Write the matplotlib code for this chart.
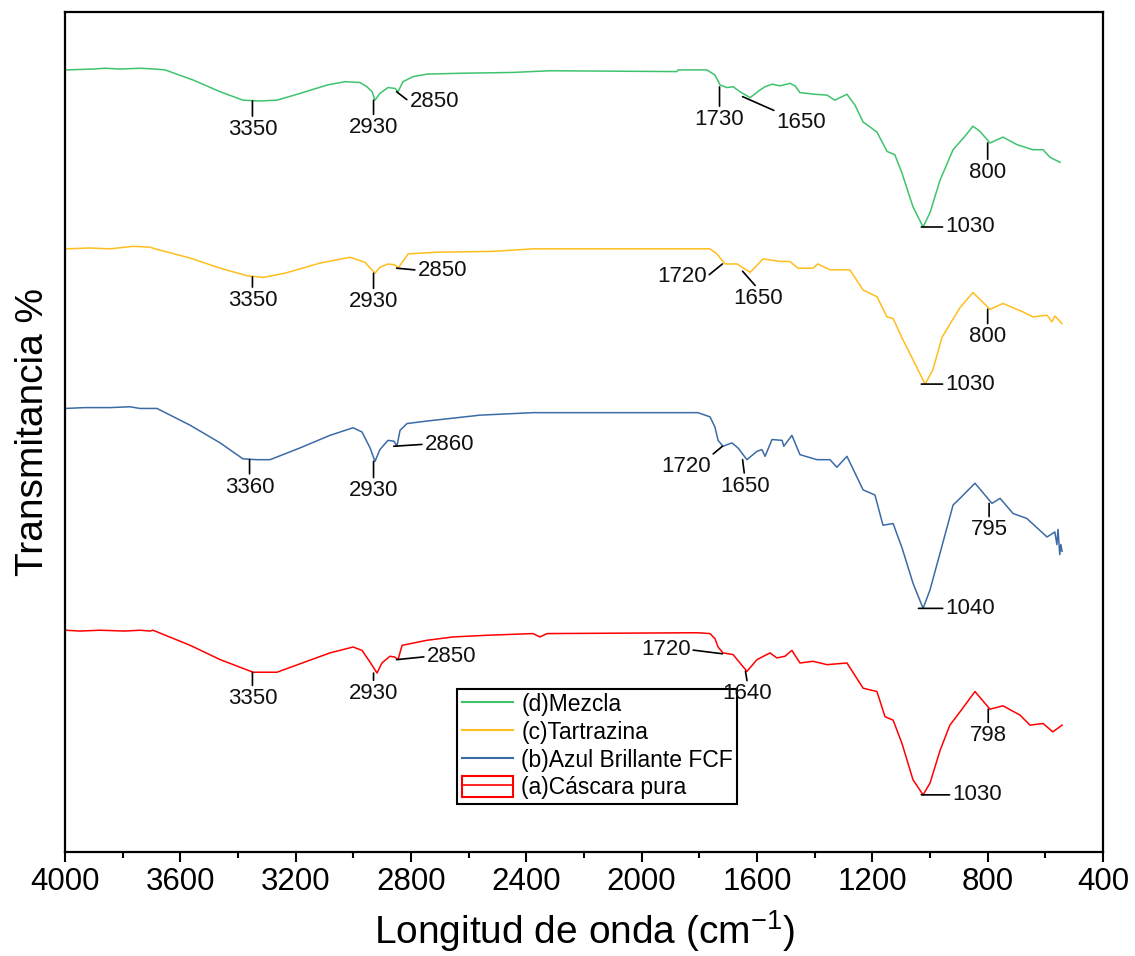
import matplotlib
matplotlib.use("Agg")
import matplotlib.pyplot as plt
import numpy as np
from matplotlib.lines import Line2D
from matplotlib.patches import Rectangle
from matplotlib.ticker import MultipleLocator

plt.rcParams["font.family"] = ["Liberation Sans", "DejaVu Sans"]
plt.rcParams["mathtext.default"] = "regular"

# FTIR spectra, stacked (arbitrary transmittance units with vertical offset)
# (d) Mezcla
wn_d = [4000, 3903, 3861, 3809, 3740, 3688, 3653, 3556, 3462, 3383, 3324, 3265, 3185, 3091,
        3029, 2977, 2953, 2935, 2925, 2908, 2880, 2856, 2845, 2828, 2793, 2745, 2630, 2446,
        2318, 1878, 1874, 1774, 1746, 1728, 1704, 1683, 1659, 1624, 1590, 1572, 1548, 1520,
        1486, 1468, 1451, 1399, 1357, 1330, 1288, 1260, 1232, 1184, 1149, 1122, 1097, 1059,
        1024, 1000, 965, 920, 879, 851, 827, 792, 747, 698, 643, 608, 584, 549]
t_d = [93.1, 93.2, 93.3, 93.2, 93.3, 93.2, 93.1, 91.9, 90.5, 89.5, 89.4, 89.5, 90.3, 91.3,
       91.7, 91.6, 91.1, 90.5, 89.5, 90.3, 91.0, 90.9, 90.5, 91.7, 92.3, 92.6, 92.7, 92.8,
       93.0, 92.9, 93.1, 93.1, 92.5, 91.3, 91.0, 91.1, 90.5, 89.8, 90.7, 91.1, 91.4, 91.2,
       91.5, 91.2, 90.4, 90.2, 90.1, 89.5, 90.2, 88.9, 86.9, 85.7, 83.4, 83.0, 80.8, 76.8,
       74.4, 76.1, 80.0, 83.6, 85.2, 86.4, 85.8, 84.4, 85.1, 84.2, 83.6, 83.6, 82.7, 82.1]
peaks_d = [3350, 2930, 2850, 1730, 1650, 1030, 800]

# (c) Tartrazina
wn_c = [4000, 3913, 3844, 3764, 3705, 3688, 3566, 3462, 3369, 3313, 3237, 3116, 3012, 2960,
        2925, 2908, 2880, 2856, 2845, 2810, 2710, 2516, 2377, 1763, 1739, 1711, 1669, 1624,
        1579, 1520, 1486, 1458, 1406, 1389, 1347, 1278, 1232, 1184, 1149, 1128, 1097, 1059,
        1017, 990, 958, 896, 851, 792, 747, 678, 643, 594, 577, 567, 542]
t_c = [71.8, 71.9, 71.8, 72.1, 72.0, 71.8, 70.7, 69.5, 68.6, 68.4, 68.9, 70.1, 70.8, 70.2,
       68.9, 69.6, 70.0, 69.9, 69.5, 71.2, 71.4, 71.5, 71.8, 71.8, 71.2, 70.0, 70.0, 69.0,
       70.6, 70.3, 70.3, 69.5, 69.5, 70.0, 69.3, 69.3, 66.9, 66.1, 63.7, 63.5, 61.2, 58.6,
       55.7, 57.4, 61.3, 64.8, 66.6, 64.6, 65.3, 64.3, 63.7, 63.9, 63.1, 63.8, 62.9]
peaks_c = [3350, 2930, 2850, 1720, 1650, 1030, 800]

# (b) Azul Brillante FCF
wn_b = [4000, 3931, 3844, 3775, 3740, 3681, 3566, 3462, 3383, 3334, 3289, 3185, 3081, 3001,
        2970, 2942, 2925, 2908, 2880, 2859, 2849, 2838, 2814, 2745, 2561, 2377, 1805, 1763,
        1746, 1735, 1718, 1687, 1666, 1635, 1600, 1583, 1572, 1548, 1513, 1507, 1479, 1451,
        1392, 1347, 1323, 1288, 1232, 1191, 1163, 1128, 1097, 1059, 1024, 1000, 965, 920,
        896, 844, 785, 757, 712, 664, 594, 567, 560, 556, 550, 546, 542]
t_b = [52.8, 52.9, 52.9, 53.0, 52.8, 52.8, 50.8, 48.7, 46.8, 46.7, 46.7, 48.1, 49.6, 50.5,
       50.0, 48.1, 46.5, 47.9, 49.0, 48.9, 48.3, 50.2, 51.0, 51.3, 52.0, 52.3, 52.3, 51.8,
       50.6, 49.0, 48.3, 48.7, 48.1, 46.7, 47.7, 47.9, 47.1, 49.1, 49.0, 48.3, 49.6, 47.3,
       46.7, 46.7, 45.8, 47.1, 43.1, 42.5, 38.9, 39.1, 36.2, 32.0, 29.0, 31.2, 35.6, 41.3,
       42.1, 43.9, 41.5, 42.1, 40.3, 39.7, 37.5, 38.1, 36.6, 38.4, 35.4, 36.6, 35.8]
peaks_b = [3360, 2930, 2860, 1720, 1650, 1040, 795]

# (a) Cáscara pura
wn_a = [4000, 3948, 3879, 3792, 3740, 3705, 3695, 3566, 3462, 3348, 3265, 3185, 3081, 3001,
        2970, 2942, 2918, 2901, 2873, 2856, 2845, 2831, 2745, 2654, 2536, 2377, 2353, 2328,
        1808, 1763, 1746, 1735, 1718, 1683, 1635, 1600, 1555, 1531, 1503, 1479, 1451, 1406,
        1357, 1288, 1232, 1184, 1156, 1128, 1097, 1059, 1024, 1000, 965, 931, 889, 844, 792,
        747, 688, 653, 608, 574, 542]
t_a = [26.4, 26.3, 26.4, 26.3, 26.4, 26.3, 26.4, 24.6, 22.9, 21.4, 21.4, 22.4, 23.7, 24.4,
       24.0, 22.6, 21.3, 22.5, 23.3, 23.2, 22.9, 24.6, 25.2, 25.6, 25.8, 26.0, 25.6, 26.0,
       26.1, 26.0, 25.4, 24.4, 23.7, 23.5, 21.5, 22.9, 23.7, 23.1, 23.3, 24.0, 22.5, 22.7,
       22.3, 22.5, 19.5, 19.1, 16.1, 15.7, 12.9, 8.6, 6.8, 8.2, 12.1, 15.1, 17.0, 19.1, 17.0,
       17.4, 16.3, 15.1, 15.3, 14.3, 15.1]
peaks_a = [3350, 2930, 2850, 1720, 1640, 1030, 798]

labels = ["(d)Mezcla", "(c)Tartrazina", "(b)Azul Brillante FCF", "(a)Cáscara pura"]
colors = ["#3EC36D", "#FFBE1E", "#3B6BA5", "#FF0000"]

# label placement: (dx, dy) in pixels from the band, and which side the text sits
layout_d = [(0, -18, "down"), (0, -17, "down"), (13, -10, "right"), (0, -22, "down"),
            (34, -15, "downright"), (24, 0, "right"), (0, -19, "down")]
layout_c = [(0, -13, "down"), (0, -18, "down"), (21, -2, "right"), (-16, -13, "left"),
            (15, -17, "down"), (24, 0, "right"), (0, -17, "down")]
layout_b = [(0, -17, "down"), (0, -19, "down"), (31, 2, "right"), (-12, -10, "downleft"),
            (2, -16, "down"), (27, 0, "right"), (0, -16, "down")]
layout_a = [(0, -16, "down"), (0, -10, "down"), (30, 3, "right"), (-32, 4, "left"),
            (2, -12, "down"), (31, 0, "right"), (0, -16, "down")]

SIDES = {
    "down": ("center", "top", (0.5, 1.0)),
    "right": ("left", "center", (0.0, 0.5)),
    "left": ("right", "center", (1.0, 0.5)),
    "downright": ("left", "top", (0.0, 1.0)),
    "downleft": ("right", "top", (1.0, 1.0)),
}


def label_peaks(ax, wn, t, peaks, layout):
    x = np.asarray(wn, dtype=float)[::-1]
    y = np.asarray(t, dtype=float)[::-1]
    for p, (dx, dy, side) in zip(peaks, layout):
        # tick starts at the lowest point of the band around the labelled wavenumber
        y0 = np.interp(np.linspace(p - 20, p + 20, 41), x, y).min()
        ha, va, rel = SIDES[side]
        ax.annotate(str(p), xy=(p, y0), xytext=(dx, dy), textcoords="offset pixels",
                    ha=ha, va=va, fontsize=16, color="#111111", zorder=6,
                    arrowprops=dict(arrowstyle="-", color="black", lw=1.2,
                                    shrinkA=0, shrinkB=0, relpos=rel))


fig = plt.figure(figsize=(11.35, 9.56), dpi=100)
ax = fig.add_axes([0.0573, 0.1088, 0.9145, 0.8787])

spectra = [(wn_d, t_d, peaks_d, layout_d), (wn_c, t_c, peaks_c, layout_c),
           (wn_b, t_b, peaks_b, layout_b), (wn_a, t_a, peaks_a, layout_a)]
for (wn, t, peaks, layout), color in zip(spectra, colors):
    ax.plot(wn, t, color=color, lw=1.1)
    label_peaks(ax, wn, t, peaks, layout)

ax.set_xlim(4000, 400)
ax.set_ylim(0, 100)
ax.set_xticks(np.arange(400, 4001, 400))
ax.xaxis.set_minor_locator(MultipleLocator(200))
ax.set_yticks([])
ax.tick_params(axis="x", which="major", direction="out", length=7, width=1.5,
               labelsize=22.5, pad=4)
ax.tick_params(axis="x", which="minor", direction="out", length=4, width=1.5)
for sp in ax.spines.values():
    sp.set_linewidth(1.6)

ax.set_xlabel("Longitud de onda (cm$^{-1}$)", fontsize=28, labelpad=8)
ax.set_ylabel("Transmitancia %", fontsize=28, labelpad=10)

handles = [Line2D([], [], color=colors[0], lw=1.5),
           Line2D([], [], color=colors[1], lw=1.5),
           Line2D([], [], color=colors[2], lw=1.5),
           (Rectangle((0, 0), 1, 1, fill=False, edgecolor=colors[3], lw=1.5),
            Line2D([], [], color=colors[3], lw=1.2))]
leg = ax.legend(handles, labels, loc="lower left", bbox_to_anchor=(0.3776, 0.0571),
                borderaxespad=0, fontsize=16.5, frameon=True, fancybox=False,
                framealpha=1, edgecolor="black", borderpad=0.2, labelspacing=0.2,
                handlelength=2.25, handleheight=1.0, handletextpad=0.35)
leg.get_frame().set_linewidth(1.5)

fig.savefig("out.png", dpi=100)
